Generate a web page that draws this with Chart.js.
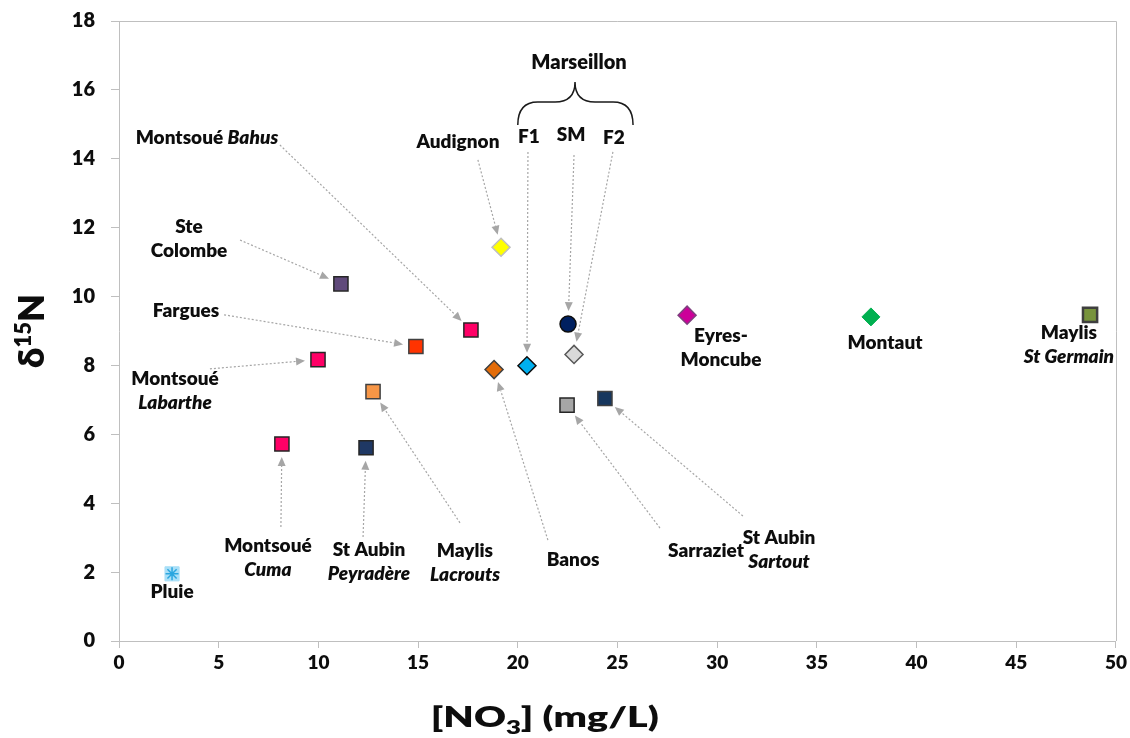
<!DOCTYPE html>
<html><head><meta charset="utf-8">
<script src="https://cdn.jsdelivr.net/npm/chart.js@4"></script>
<style>html,body{margin:0;padding:0;background:#fff}#wrap{width:1130px;height:738px;position:relative}</style>
</head><body><div id="wrap"><canvas id="c"></canvas></div>
<script>
// ---- data ----
const sites = ["Pluie","Montsoué Cuma","St Aubin Peyradère","Maylis Lacrouts","Montsoué Labarthe","Ste Colombe","Fargues","Montsoué Bahus","Banos","Audignon","Marseillon F1","Marseillon SM","Marseillon F2","Sarraziet","St Aubin Sartout","Eyres-Moncube","Montaut","Maylis St Germain"];
const no3  = [2.66, 8.17, 12.39, 12.74, 9.98, 11.13, 14.89, 17.65, 18.81, 19.16, 20.46, 22.52, 22.82, 22.47, 24.37, 28.49, 37.71, 48.70];
const d15n = [1.95, 5.72, 5.61, 7.24, 8.17, 10.37, 8.55, 9.03, 7.88, 11.43, 7.99, 9.20, 8.32, 6.85, 7.04, 9.46, 9.41, 9.47];
const xTickValues = [0,5,10,15,20,25,30,35,40,45,50];
const yTickValues = [0,2,4,6,8,10,12,14,16,18];

// ---- styles ----
const shapes = ["star","rect","rect","rect","rect","rect","rect","rect","rectRot","rectRot","rectRot","circle","rectRot","rect","rect","rectRot","rectRot","rect"];
const fills  = ["#2aa6df","#ff0066","#1f3864","#f79646","#ff0066","#604a7b","#ff3300","#ff0066","#e36c09","#ffff00","#00b0f0","#002060","#d9d9d9","#a6a6a6","#17375e","#cc0099","#00b050","#77933c"];
const strokes= ["#2aa6df","#262626","#262626","#404040","#262626","#262626","#404040","#262626","#404040","#bfbfbf","#0d0d0d","#0d0d0d","#595959","#262626","#404040","#7f3f7f","#00b050","#3f3f3f"];
const radii  = [6.5,10,10,10,10,10,10,10,9,9,9,8,9,10,10,9,9,10];
const bwidth = [1.5,1.5,1.5,1.5,1.5,1.5,1.5,1.5,1.5,1.5,1.5,1.5,1.5,1.5,1.5,1.5,1,2.5];

// ---- annotations (label anchor & arrow start in data units) ----
const annotations = [
  {i:0,  lines:[[["Pluie",0]]], at:[2.66,1.42], from:null},
  {i:1,  lines:[[["Montsoué",0]],[["Cuma",1]]], at:[7.47,2.75], from:[8.12,3.31]},
  {i:2,  lines:[[["St Aubin",0]],[["Peyradère",1]]], at:[12.54,2.64], from:[12.24,3.02]},
  {i:3,  lines:[[["Maylis",0]],[["Lacrouts",1]]], at:[17.35,2.61], from:[17.1,3.43]},
  {i:8,  lines:[[["Banos",0]]], at:[22.77,2.35], from:[21.51,2.93]},
  {i:13, lines:[[["Sarraziet",0]]], at:[29.44,2.61], from:[27.13,3.28]},
  {i:14, lines:[[["St Aubin",0]],[["Sartout",1]]], at:[33.1,2.99], from:[31.29,3.63]},
  {i:4,  lines:[[["Montsoué",0]],[["Labarthe",1]]], at:[2.81,7.61], from:[4.56,7.9]},
  {i:6,  lines:[[["Fargues",0]]], at:[3.36,9.58], from:[5.27,9.47]},
  {i:5,  lines:[[["Ste",0]],[["Colombe",0]]], at:[3.51,12.02], from:[6.07,11.64]},
  {i:7,  lines:[[["Montsoué ",0],["Bahus",1]]], at:[4.41,14.6], from:[8.07,14.4]},
  {i:9,  lines:[[["Audignon",0]]], at:[17.0,14.49], from:[18.0,13.97]},
  {i:10, lines:[[["F1",0]]], at:[20.56,14.63], from:[20.51,14.2]},
  {i:11, lines:[[["SM",0]]], at:[22.67,14.69], from:[22.82,14.11]},
  {i:12, lines:[[["F2",0]]], at:[24.82,14.6], from:[24.77,14.2]},
  {i:15, lines:[[["Eyres-",0]],[["Moncube",0]]], at:[30.19,8.86], from:null},
  {i:16, lines:[[["Montaut",0]]], at:[38.42,8.65], from:null},
  {i:17, lines:[[["Maylis",0]],[["St Germain",1]]], at:[47.64,8.94], from:null}
];
const groupLabel = {text:"Marseillon", at:[23.07,16.78], brace:{x0:20.0, x1:25.78, xc:22.87, yb:14.98, ym:15.65, yt:16.23}};

const FONT = "Lato";
const W = "800";
const labelPlugin = {
  id:"labels",
  beforeDatasetsDraw(chart){
    const {ctx, chartArea:a, scales:{x,y}} = chart;
    ctx.save();
    ctx.strokeStyle="#bfbfbf"; ctx.lineWidth=1;
    ctx.beginPath();
    ctx.moveTo(a.left, Math.round(a.top)+0.5); ctx.lineTo(Math.round(a.right)+0.5, Math.round(a.top)+0.5);
    ctx.lineTo(Math.round(a.right)+0.5, a.bottom);
    ctx.stroke();
    annotations.forEach(an=>{
      if(!an.from) return;
      const sx=x.getPixelForValue(an.from[0]), sy=y.getPixelForValue(an.from[1]);
      const px=x.getPixelForValue(no3[an.i]), py=y.getPixelForValue(d15n[an.i]);
      const dx=px-sx, dy=py-sy, len=Math.hypot(dx,dy), ux=dx/len, uy=dy/len;
      const gap=13;
      const ex=px-ux*gap, ey=py-uy*gap;
      const hl=9, hw=4;
      const bx=ex-ux*hl, by=ey-uy*hl;
      ctx.strokeStyle="#a6a6a6"; ctx.lineWidth=1.2; ctx.setLineDash([2,2]);
      ctx.beginPath(); ctx.moveTo(sx,sy); ctx.lineTo(bx,by); ctx.stroke();
      ctx.setLineDash([]);
      ctx.fillStyle="#a6a6a6";
      ctx.beginPath(); ctx.moveTo(ex,ey); ctx.lineTo(bx-uy*hw, by+ux*hw); ctx.lineTo(bx+uy*hw, by-ux*hw); ctx.closePath(); ctx.fill();
    });
    const b=groupLabel.brace;
    const L=x.getPixelForValue(b.x0), R=x.getPixelForValue(b.x1), C=x.getPixelForValue(b.xc);
    const B=y.getPixelForValue(b.yb), M=y.getPixelForValue(b.ym), T=y.getPixelForValue(b.yt);
    const q=20;
    ctx.strokeStyle="#1a1a1a"; ctx.lineWidth=1.5;
    ctx.beginPath();
    ctx.moveTo(L,B);
    ctx.quadraticCurveTo(L,M,L+q,M);
    ctx.lineTo(C-q,M);
    ctx.quadraticCurveTo(C,M,C,T);
    ctx.quadraticCurveTo(C,M,C+q,M);
    ctx.lineTo(R-q,M);
    ctx.quadraticCurveTo(R,M,R,B);
    ctx.stroke();
    ctx.restore();
  },
  afterDatasetsDraw(chart){
    const {ctx, chartArea:a, scales:{x,y}} = chart;
    ctx.save();
    ctx.fillStyle="#0d0d0d"; ctx.textBaseline="middle"; ctx.textAlign="left";
    const lh=24;
    const fontFor = it => (it?"italic ":"")+W+" 19px "+FONT;
    annotations.forEach(an=>{
      const cx=x.getPixelForValue(an.at[0]); let cy=y.getPixelForValue(an.at[1]);
      an.lines.forEach((segs,k)=>{
        let w=0; segs.forEach(s=>{ctx.font=fontFor(s[1]); w+=ctx.measureText(s[0]).width;});
        let xx=cx-w/2;
        segs.forEach(s=>{ctx.font=fontFor(s[1]); ctx.fillText(s[0],xx,cy+k*lh); xx+=ctx.measureText(s[0]).width;});
      });
    });
    ctx.font=W+" 20px "+FONT; ctx.textAlign="center";
    ctx.fillText(groupLabel.text, x.getPixelForValue(groupLabel.at[0]), y.getPixelForValue(groupLabel.at[1]));
    // y title
    ctx.save();
    ctx.translate(31,(a.top+a.bottom)/2);
    ctx.rotate(-Math.PI/2);
    ctx.textAlign="left"; ctx.textBaseline="alphabetic";
    const p1="δ", p2="15", p3="N";
    ctx.font=W+" 36px "+FONT; const w1=ctx.measureText(p1).width, w3=ctx.measureText(p3).width;
    ctx.font=W+" 22px "+FONT; const w2=ctx.measureText(p2).width;
    let sx=-(w1+w2+w3)/2; const base=13;
    ctx.font=W+" 36px "+FONT; ctx.fillText(p1,sx,base); sx+=w1;
    ctx.font=W+" 22px "+FONT; ctx.fillText(p2,sx,base-13); sx+=w2;
    ctx.font=W+" 36px "+FONT; ctx.fillText(p3,sx,base);
    ctx.restore();
    // x title (stretched horizontally like the source)
    ctx.save();
    ctx.textAlign="left"; ctx.textBaseline="alphabetic";
    const q1="[NO", q2="3", q3="] (mg/L)";
    ctx.font=W+" 29px "+FONT; const v1=ctx.measureText(q1).width, v3=ctx.measureText(q3).width;
    ctx.font=W+" 19px "+FONT; const v2=ctx.measureText(q2).width;
    const tot=v1+v2+v3, target=228, k=target/tot;
    const cxT=a.left+0.427*(a.right-a.left);
    ctx.translate(cxT-target/2, 727);
    ctx.scale(k,1);
    let tx=0;
    ctx.font=W+" 29px "+FONT; ctx.fillText(q1,tx,0); tx+=v1;
    ctx.font=W+" 19px "+FONT; ctx.fillText(q2,tx,7); tx+=v2;
    ctx.font=W+" 29px "+FONT; ctx.fillText(q3,tx,0);
    ctx.restore();
    ctx.restore();
  }
};

const points = no3.map((v,k)=>({x:v, y:d15n[k]}));
const pluieHalo = [{x:no3[0], y:d15n[0]}];

new Chart(document.getElementById("c"), {
  type:"scatter",
  data:{datasets:[
    {label:"Sites", data:points, pointStyle:shapes, backgroundColor:fills, borderColor:strokes,
     pointRadius:radii, pointHoverRadius:radii, pointBorderWidth:bwidth, order:1},
    {label:"Pluie", data:pluieHalo, pointStyle:"rect", backgroundColor:"#a9dff7", borderColor:"#a9dff7",
     pointRadius:10, pointHoverRadius:10, pointBorderWidth:1, order:2}
  ]},
  options:{
    responsive:true, maintainAspectRatio:false, animation:false,
    layout:{padding:{left:0,right:14,top:21,bottom:0}},
    plugins:{legend:{display:false}, tooltip:{enabled:false}},
    scales:{
      x:{type:"linear", min:0, max:50,
        afterBuildTicks:s=>{s.ticks=xTickValues.map(v=>({value:v}));},
        afterFit:s=>{s.height=97;},
        ticks:{font:{family:FONT,size:19,weight:W}, color:"#0d0d0d", padding:3},
        grid:{drawOnChartArea:false, drawTicks:true, tickLength:7, color:"#bfbfbf"},
        border:{color:"#bfbfbf", width:1}},
      y:{type:"linear", min:0, max:18,
        afterBuildTicks:s=>{s.ticks=yTickValues.map(v=>({value:v}));},
        afterFit:s=>{s.width=119; s.paddingTop=0; s.paddingBottom=0;},
        ticks:{font:{family:FONT,size:20,weight:W}, color:"#0d0d0d", padding:16},
        grid:{drawOnChartArea:false, drawTicks:true, tickLength:8, color:"#bfbfbf"},
        border:{color:"#bfbfbf", width:1}}
    }
  },
  plugins:[labelPlugin]
});
</script></body></html>
